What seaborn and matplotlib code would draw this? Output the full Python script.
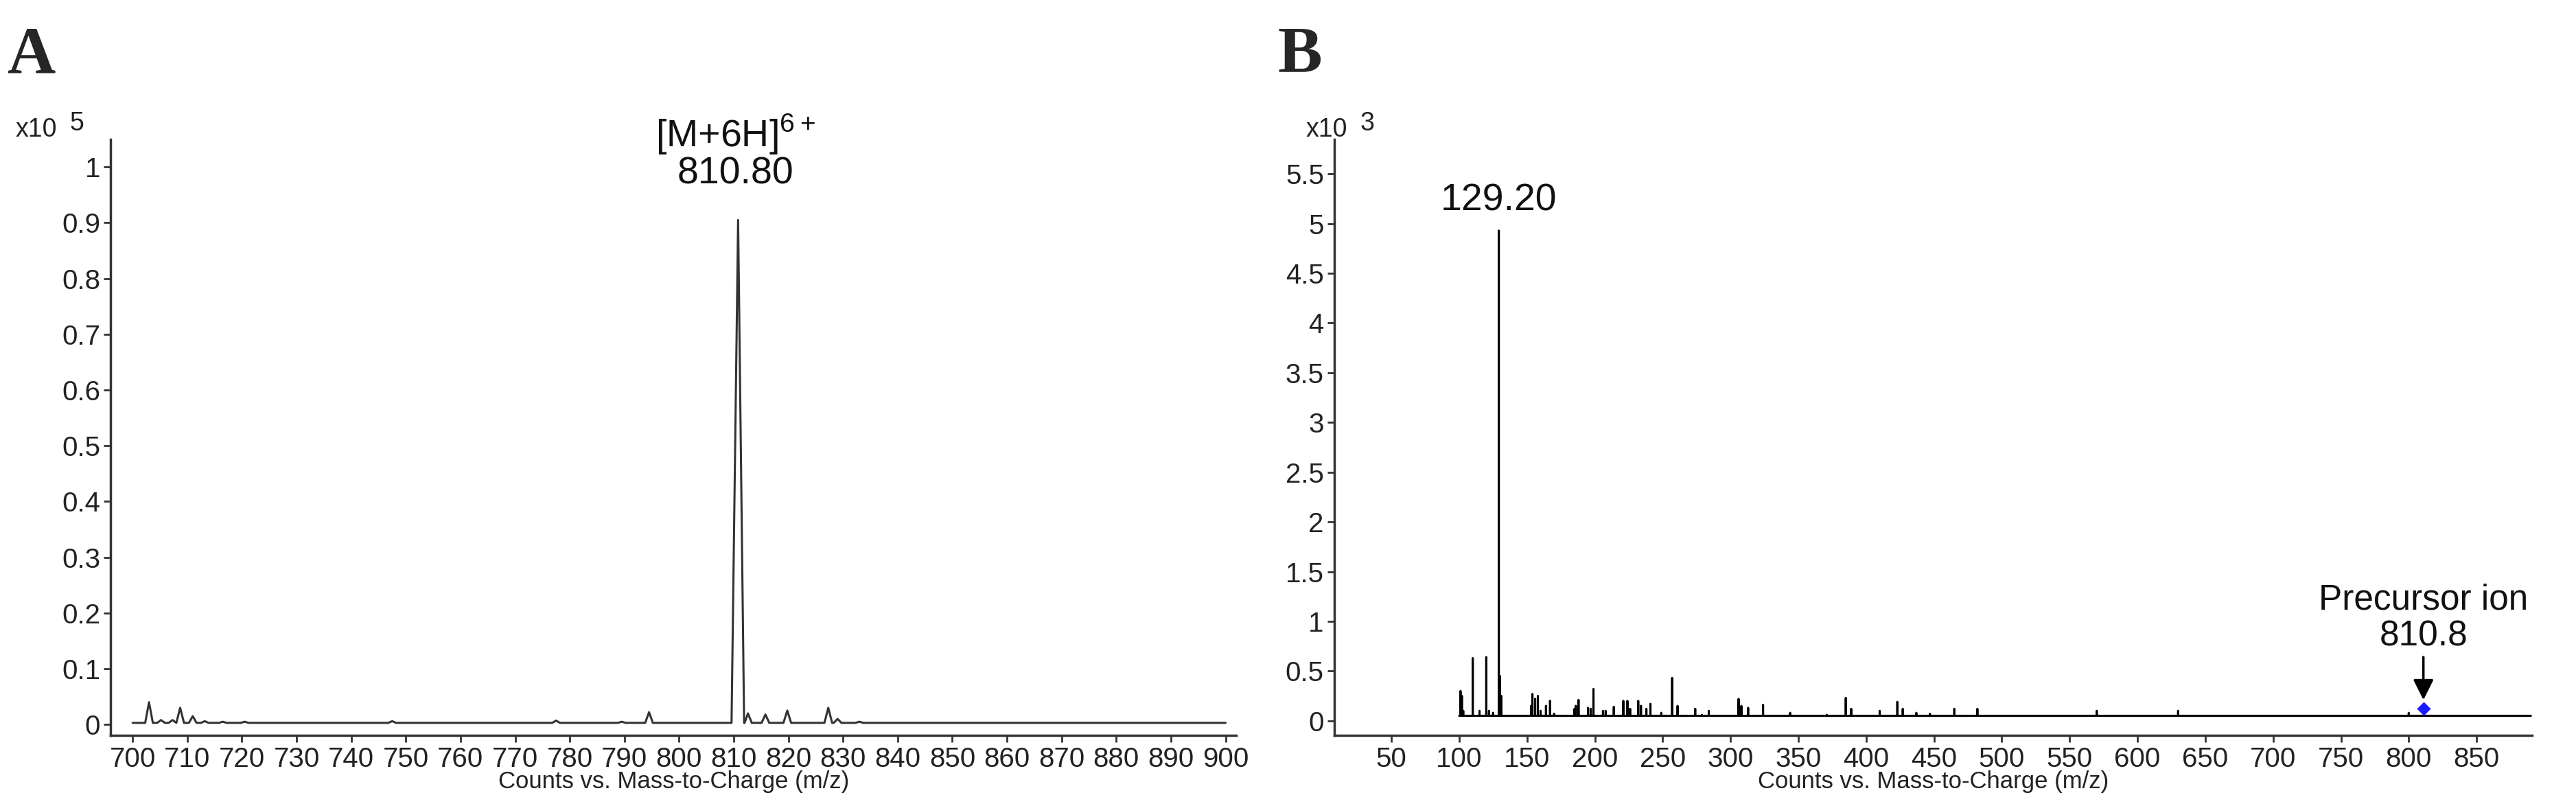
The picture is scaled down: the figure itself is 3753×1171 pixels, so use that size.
import numpy as np
import pandas as pd
import matplotlib
matplotlib.use("Agg")
import matplotlib.pyplot as plt
import seaborn as sns

sns.set_theme(style="white")
plt.rcParams['font.family'] = ['Liberation Sans', 'DejaVu Sans']

# Panel A: MS1 profile peaks (m/z, intensity x10^5)
ms1_mz = [703.0, 705.2, 707.3, 708.7, 711.0, 713.2, 716.5, 720.5, 747.5, 777.5,
          789.5, 794.5, 810.8, 812.6, 815.8, 819.8, 827.3, 829.0, 833.0]
ms1_int = [0.040, 0.008, 0.008, 0.030, 0.015, 0.006, 0.005, 0.005, 0.006, 0.007,
           0.005, 0.022, 0.905, 0.020, 0.018, 0.025, 0.030, 0.010, 0.005]
ms1_base = 0.003
ms1_range = [700, 900]

# Panel B: MS/MS stick peaks (m/z, intensity x10^3)
ms2_mz = [101, 102, 103, 110, 115, 120, 122, 125, 129.2, 130, 131, 153, 154, 156, 158,
          160, 164, 167, 170, 185, 186, 188, 195, 197, 199, 206, 208, 214, 221, 224,
          226, 232, 234, 238, 241, 249, 257, 261, 267, 274, 279, 284, 306, 308, 313,
          324, 344, 371, 385, 389, 410, 423, 427, 437, 447, 465, 482, 570, 630, 800]
ms2_int = [0.30, 0.25, 0.10, 0.63, 0.10, 0.64, 0.10, 0.08, 4.93, 0.45, 0.25, 0.15, 0.27,
           0.22, 0.25, 0.10, 0.15, 0.20, 0.07, 0.12, 0.15, 0.21, 0.13, 0.12, 0.32, 0.10,
           0.10, 0.14, 0.20, 0.20, 0.12, 0.20, 0.15, 0.12, 0.17, 0.08, 0.43, 0.15, 0.05,
           0.12, 0.06, 0.10, 0.22, 0.15, 0.13, 0.16, 0.08, 0.06, 0.23, 0.12, 0.10, 0.19,
           0.12, 0.08, 0.07, 0.12, 0.12, 0.10, 0.10, 0.08]
ms2_base = 0.05
ms2_range = [100, 890]
precursor_mz = 810.8
precursor_int = 0.12

# build line tables
rows = [(ms1_range[0], ms1_base)]
for m, h in zip(ms1_mz, ms1_int):
    w = 1.2 if h > 0.5 else 0.7
    rows += [(m - w, ms1_base), (m, h), (m + w, ms1_base)]
rows.append((ms1_range[1], ms1_base))
dfA = pd.DataFrame(rows, columns=["mz", "y"]).sort_values("mz")

rows = [(ms2_range[0], ms2_base)]
for m, h in zip(ms2_mz, ms2_int):
    rows += [(m - 0.01, ms2_base), (m, h), (m + 0.01, ms2_base)]
rows.append((ms2_range[1], ms2_base))
dfB = pd.DataFrame(rows, columns=["mz", "y"]).sort_values("mz")

fig = plt.figure(figsize=(37.53, 11.71), dpi=100)
axA = fig.add_axes([0.043, 0.085, 0.437, 0.742])
axB = fig.add_axes([0.518, 0.085, 0.465, 0.742])

sns.lineplot(data=dfA, x="mz", y="y", ax=axA, color="#333333", lw=2.2, sort=False, estimator=None)
sns.lineplot(data=dfB, x="mz", y="y", ax=axB, color="black", lw=2.2, sort=False, estimator=None)

axA.set_xlim(696, 902)
axA.set_ylim(-0.02, 1.05)
axA.set_xticks(np.arange(700, 901, 10))
axA.set_yticks(np.arange(0, 1.01, 0.1))

axB.set_xlim(8, 891)
axB.set_ylim(-0.15, 5.85)
axB.set_xticks(np.arange(50, 851, 50))
axB.set_yticks(np.arange(0, 5.51, 0.5))

for ax in (axA, axB):
    ax.yaxis.set_major_formatter(matplotlib.ticker.FormatStrFormatter('%g'))
    for s in ["top", "right"]:
        ax.spines[s].set_visible(False)
    for s in ["left", "bottom"]:
        ax.spines[s].set_color("#333333")
        ax.spines[s].set_linewidth(2.5)
    ax.tick_params(axis="both", direction="out", length=7, width=2, color="#333333",
                   labelsize=29, labelcolor="#222222", pad=4, left=True, bottom=True)
    ax.set_xlabel("Counts vs. Mass-to-Charge (m/z)", fontsize=25, color="#222222", labelpad=-2)
    ax.set_ylabel("")

axA.text(810.3, 0.955, "[M+6H]$^{\\mathregular{6+}}$\n810.80", ha="center", va="bottom",
         fontsize=40, color="#111111", linespacing=1.0)
axB.text(129.2, 5.05, "129.20", ha="center", va="bottom", fontsize=40, color="#111111")
axB.text(precursor_mz, 0.68, "Precursor ion\n810.8", ha="center", va="bottom", fontsize=37,
         color="#111111", linespacing=1.1)
axB.annotate("", xy=(precursor_mz, precursor_int + 0.07), xytext=(precursor_mz, 0.66),
             arrowprops=dict(arrowstyle="-|>", color="black", lw=2.5, mutation_scale=45))
sns.scatterplot(x=[precursor_mz], y=[precursor_int], ax=axB, marker="D", s=90,
                color="#1a1aff", edgecolor="#1a1aff", zorder=5)

fig.text(0.006, 0.83, "x10", fontsize=27, color="#222222")
fig.text(0.027, 0.838, "5", fontsize=27, color="#222222")
fig.text(0.507, 0.83, "x10", fontsize=27, color="#222222")
fig.text(0.528, 0.838, "3", fontsize=27, color="#222222")

fig.text(0.003, 0.91, "A", fontsize=70, fontweight="bold", family="Liberation Serif")
fig.text(0.496, 0.91, "B", fontsize=70, fontweight="bold", family="Liberation Serif")

fig.savefig("out.png", dpi=100)
